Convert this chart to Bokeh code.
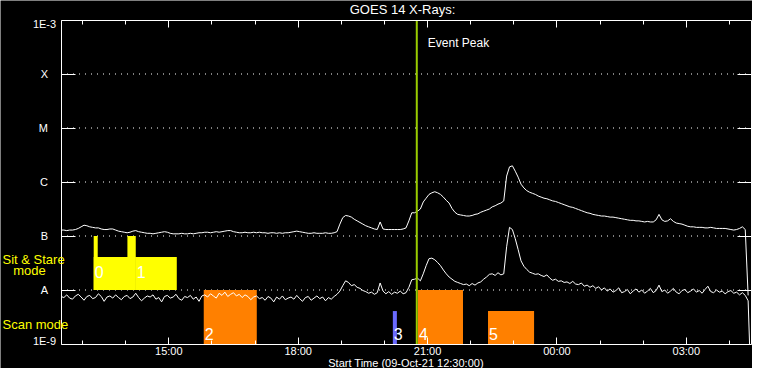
from bokeh.plotting import figure
from bokeh.models import Range1d, FixedTicker, LinearAxis, Label, ColumnDataSource
from bokeh.core.properties import value
from bokeh.embed import file_html
from bokeh.resources import INLINE

# ---------------- data ----------------
title_text = "GOES 14 X-Rays:"
xlabel_text = "Start Time (09-Oct-21 12:30:00)"

# x in minutes since 09-Oct-21 12:30:00
x_start_min, x_end_min = 0, 960
x_tick_min = [150, 330, 510, 690, 870]
x_tick_labels = ["15:00", "18:00", "21:00", "00:00", "03:00"]
x_minor_min = [30, 90, 150, 210, 270, 330, 390, 450, 510, 570, 630, 690, 750, 810, 870, 930]

# y in log10(flux W/m^2)
y_min_log, y_max_log = -9, -3
y_tick_log = [-9, -8, -7, -6, -5, -4, -3]
y_tick_labels = ["1E-9", "A", "B", "C", "M", "X", "1E-3"]
y_grid_log = [-8, -7, -6, -5, -4]

# sample times (minutes since start)
time_min = list(range(0, 956, 4)) + [956, 958]

# GOES long channel (1-8 A), log10 flux
goes_long_log = [
    -6.89, -6.89, -6.90, -6.89, -6.89, -6.88, -6.86, -6.83, -6.80, -6.81,
    -6.83, -6.84, -6.85, -6.85, -6.87, -6.88, -6.88, -6.87, -6.87, -6.89,
    -6.91, -6.92, -6.93, -6.94, -6.93, -6.91, -6.90, -6.92, -6.93, -6.94,
    -6.95, -6.95, -6.96, -6.95, -6.94, -6.93, -6.92, -6.93, -6.95, -6.96,
    -6.96, -6.96, -6.95, -6.96, -6.96, -6.95, -6.96, -6.95, -6.94, -6.94,
    -6.93, -6.93, -6.94, -6.93, -6.92, -6.93, -6.92, -6.91, -6.90, -6.90,
    -6.92, -6.93, -6.94, -6.94, -6.93, -6.94, -6.94, -6.93, -6.94, -6.93,
    -6.94, -6.94, -6.95, -6.94, -6.94, -6.95, -6.94, -6.95, -6.94, -6.94,
    -6.93, -6.92, -6.91, -6.92, -6.93, -6.94, -6.95, -6.95, -6.94, -6.95,
    -6.95, -6.95, -6.94, -6.95, -6.95, -6.94, -6.92, -6.78, -6.66, -6.62,
    -6.63, -6.65, -6.69, -6.72, -6.75, -6.78, -6.81, -6.83, -6.85, -6.87,
    -6.88, -6.74, -6.87, -6.88, -6.88, -6.88, -6.88, -6.88, -6.88, -6.87,
    -6.85, -6.72, -6.57, -6.57, -6.54, -6.50, -6.37, -6.30, -6.23, -6.20,
    -6.18, -6.20, -6.23, -6.28, -6.34, -6.39, -6.49, -6.56, -6.60, -6.61,
    -6.62, -6.63, -6.63, -6.62, -6.60, -6.59, -6.56, -6.54, -6.52, -6.50,
    -6.46, -6.44, -6.41, -6.39, -6.35, -5.89, -5.72, -5.70, -5.80, -5.91,
    -6.04, -6.11, -6.16, -6.19, -6.21, -6.23, -6.26, -6.28, -6.30, -6.31,
    -6.33, -6.35, -6.36, -6.38, -6.40, -6.42, -6.44, -6.46, -6.47, -6.49,
    -6.51, -6.53, -6.55, -6.57, -6.58, -6.60, -6.61, -6.62, -6.63, -6.63,
    -6.64, -6.65, -6.65, -6.66, -6.67, -6.68, -6.69, -6.70, -6.71, -6.71,
    -6.72, -6.72, -6.73, -6.74, -6.73, -6.74, -6.74, -6.70, -6.60, -6.70,
    -6.73, -6.72, -6.68, -6.73, -6.76, -6.77, -6.78, -6.80, -6.82, -6.83,
    -6.83, -6.84, -6.84, -6.84, -6.85, -6.85, -6.84, -6.85, -6.86, -6.86,
    -6.86, -6.86, -6.87, -6.88, -6.89, -6.88, -6.86, -6.83, -6.88,
    -8.10, float("nan"),
]

# GOES short channel (0.5-4 A), log10 flux
goes_short_log = [
    -8.12, -8.14, -8.09, -8.15, -8.17, -8.11, -8.08, -8.13, -8.19, -8.12,
    -8.10, -8.16, -8.14, -8.07, -8.12, -8.21, -8.13, -8.11, -8.15, -8.09,
    -8.14, -8.18, -8.12, -8.10, -8.16, -8.13, -8.06, -8.14, -8.20, -8.15,
    -8.11, -8.13, -8.09, -8.17, -8.14, -8.22, -8.12, -8.10, -8.15, -8.13,
    -8.08, -8.16, -8.19, -8.12, -8.14, -8.10, -8.17, -8.13, -8.21, -8.11,
    -8.09, -8.13, -8.07, -8.11, -8.15, -8.06, -8.10, -8.04, -8.12, -8.08,
    -8.05, -8.11, -8.08, -8.14, -8.09, -8.12, -8.18, -8.13, -8.11, -8.16,
    -8.14, -8.19, -8.12, -8.15, -8.22, -8.13, -8.17, -8.11, -8.18, -8.15,
    -8.13, -8.17, -8.10, -8.16, -8.21, -8.14, -8.12, -8.19, -8.15, -8.11,
    -8.16, -8.13, -8.20, -8.14, -8.17, -8.12, -8.08, -8.02, -7.92, -7.83,
    -7.86, -7.92, -7.90, -7.95, -7.97, -8.01, -8.03, -8.06, -8.04, -8.08,
    -8.05, -7.87, -8.02, -8.07, -8.03, -8.08, -8.04, -8.06, -8.02, -8.07,
    -8.05, -7.95, -7.81, -7.80, -7.78, -7.83, -7.70, -7.55, -7.42, -7.41,
    -7.44, -7.49, -7.55, -7.63, -7.70, -7.76, -7.80, -7.84, -7.86, -7.88,
    -7.90, -7.89, -7.92, -7.88, -7.91, -7.87, -7.85, -7.80, -7.76, -7.71,
    -7.70, -7.73, -7.68, -7.72, -7.70, -7.20, -6.84, -6.88, -7.05, -7.25,
    -7.46, -7.56, -7.62, -7.67, -7.69, -7.71, -7.70, -7.73, -7.75, -7.72,
    -7.78, -7.82, -7.80, -7.84, -7.83, -7.86, -7.85, -7.88, -7.84, -7.89,
    -7.90, -7.87, -7.93, -7.91, -7.95, -7.92, -7.97, -7.94, -8.00, -7.96,
    -8.02, -7.98, -8.04, -8.01, -7.96, -8.05, -8.03, -7.99, -8.07, -8.02,
    -7.98, -8.04, -8.00, -8.06, -8.02, -7.97, -8.05, -8.01, -7.91, -8.03,
    -8.00, -8.06, -8.02, -7.97, -8.04, -8.07, -8.01, -7.99, -8.05, -8.02,
    -7.98, -8.04, -8.01, -8.06, -7.99, -7.93, -8.03, -8.05, -8.00, -8.04,
    -8.02, -8.07, -8.03, -8.01, -8.06, -8.04, -8.09, -8.05, -8.10,
    -8.20, -9.00,
]

# Observations (minutes since start)
obs_ids = ["0", "1", "2", "3", "4", "5"]
obs_mode = ["sit", "sit", "scan", "scan", "scan", "scan"]
obs_start_min = [45.5, 104.0, 198.6, 461.7, 496.6, 594.1]
obs_end_min = [104.0, 161.1, 272.4, 467.3, 559.3, 658.2]
obs_bottom_log = [-8.0, -8.0, -9.0, -9.0, -9.0, -9.0]
obs_top_log = [-7.39, -7.39, -8.0, -8.39, -8.0, -8.39]
obs_kind = ["yellow", "yellow", "orange", "blue", "orange", "orange"]

# tall sit & stare markers
marker_start_min = [45.5, 92.4]
marker_end_min = [51.1, 104.0]
marker_bottom_log = [-8.0, -8.0]
marker_top_log = [-7.0, -7.0]

event_peak_min = 495.0
event_label = "Event Peak"
mode_labels = ["Sit & Stare", "mode", "Scan mode"]

# ---------------- layout (canvas pixels) ----------------
W, H = 752, 368
FRAME_L, FRAME_R, FRAME_T, FRAME_B = 60.5, 750.5, 19.5, 343.5
px_per_min = (FRAME_R - FRAME_L) / (x_end_min - x_start_min)
px_per_dec = (FRAME_B - FRAME_T) / (y_max_log - y_min_log)
xr = Range1d(x_start_min - FRAME_L / px_per_min, x_end_min + (W - FRAME_R) / px_per_min)
yr = Range1d(y_min_log - (H - FRAME_B) / px_per_dec, y_max_log + FRAME_T / px_per_dec)

FONT = "Liberation Sans"
palette = {"yellow": "#ffff00", "orange": "#ff8000", "blue": "#6a6aff"}
label_lift_px = {"sit": 17.8, "scan": 10.5}   # number label centre above box bottom

p = figure(width=W, height=H, output_backend="svg", toolbar_location=None,
           x_range=xr, y_range=yr, title=None,
           x_axis_location=None, y_axis_location=None,
           background_fill_color="black", border_fill_color="black",
           min_border=0)
p.outline_line_color = None
p.grid.visible = False


def make_axis(ticks, minor, loc, bounds, tick_in, minor_in, labels=None):
    ax = LinearAxis(ticker=FixedTicker(ticks=ticks, minor_ticks=minor),
                    fixed_location=loc, bounds=bounds)
    ax.axis_line_color = "white"
    ax.major_tick_line_color = "white"
    ax.minor_tick_line_color = "white"
    ax.major_tick_out = 0
    ax.minor_tick_out = 0
    ax.major_tick_in = tick_in
    ax.minor_tick_in = minor_in
    ax.major_label_text_color = "white"
    ax.major_label_text_font = FONT
    ax.major_label_text_font_size = "11px"
    if labels is None:
        labels = ["" for _ in ticks]
    ax.major_label_overrides = {float(t): l for t, l in zip(ticks, labels)}
    return ax


bottom = make_axis(x_tick_min, x_minor_min, y_min_log, (x_start_min, x_end_min), 7, 4,
                   x_tick_labels)
bottom.major_label_standoff = 1
p.add_layout(bottom, "below")

top = make_axis(x_tick_min, x_minor_min, y_max_log, (x_start_min, x_end_min), 7, 4)
p.add_layout(top, "above")

left_labels = [l if 0 < i < len(y_tick_labels) - 1 else "" for i, l in enumerate(y_tick_labels)]
left = make_axis(y_tick_log, [], x_start_min, (y_min_log, y_max_log), 14, 0, left_labels)
left.major_label_standoff = 13
p.add_layout(left, "left")

right = make_axis(y_tick_log, [], x_end_min, (y_min_log, y_max_log), 14, 0)
p.add_layout(right, "right")

# dotted grid lines
p.segment(x0=[x_start_min] * len(y_grid_log), x1=[x_end_min] * len(y_grid_log),
          y0=y_grid_log, y1=y_grid_log, line_color="white", line_width=1,
          line_dash="1 5")

# observation boxes
obs_src = ColumnDataSource(dict(
    left=obs_start_min, right=obs_end_min, bottom=obs_bottom_log, top=obs_top_log,
    color=[palette[k] for k in obs_kind], label=obs_ids,
    label_y=[b + label_lift_px[m] / px_per_dec for b, m in zip(obs_bottom_log, obs_mode)],
))
p.quad(left="left", right="right", bottom="bottom", top="top", source=obs_src,
       fill_color="color", line_color=None)
p.quad(left=marker_start_min, right=marker_end_min, bottom=marker_bottom_log,
       top=marker_top_log, fill_color=palette["yellow"], line_color=None)

# curves
curve_src = ColumnDataSource(dict(t=time_min, long=goes_long_log, short=goes_short_log))
p.line("t", "long", source=curve_src, line_color="white", line_width=1)
p.line("t", "short", source=curve_src, line_color="white", line_width=1)

# observation numbers
p.text(x="left", y="label_y", text="label", source=obs_src, x_offset=1,
       text_color="white", text_font=value(FONT), text_font_size="16px",
       text_align="left", text_baseline="middle")

# event peak line
p.segment(x0=[event_peak_min], x1=[event_peak_min], y0=[y_min_log], y1=[y_max_log],
          line_color="#99cc00", line_width=2)


def add_label(text, x, y_from_top, color="white", size="12px", align="left",
              x_units="screen", x_offset=0):
    p.add_layout(Label(x=x, y=H - y_from_top, x_units=x_units, y_units="screen",
                       x_offset=x_offset, text=text, text_color=color, text_font=FONT,
                       text_font_size=size, text_align=align,
                       text_baseline="middle"))


add_label(event_label, event_peak_min, 42.8, x_units="data", x_offset=11)

# edge tick labels (IDL style, pulled inside the frame)
add_label(y_tick_labels[-1], 44, 23, size="11px", align="center")
add_label(y_tick_labels[0], 44, 340, size="11px", align="center")

# mode labels
add_label(mode_labels[0], 2, 258.8, color="#ffff00", size="13px")
add_label(mode_labels[1], 12.7, 270.3, color="#ffff00", size="13px")
add_label(mode_labels[2], 2, 324.2, color="#ffff00", size="13px")

# title and x label
add_label(title_text, 402, 9.2, size="13px", align="center")
add_label(xlabel_text, 405.5, 362, size="11px", align="center")

open("out.html", "w").write(file_html(p, INLINE))
